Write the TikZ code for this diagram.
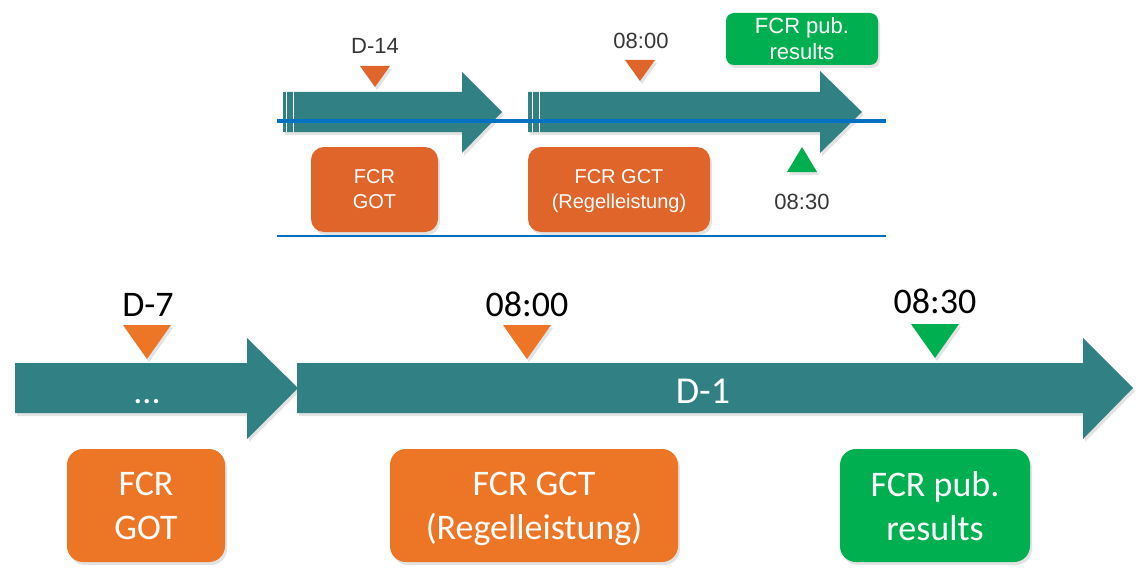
\documentclass[tikz,border=0pt]{standalone}
\usepackage{fontspec}
\setmainfont{Carlito}
\newfontfamily\arialfont{Liberation Sans}
\usetikzlibrary{shadows}

\definecolor{arrowteal}{RGB}{49,128,131}
\definecolor{gotorange}{RGB}{237,118,38}
\definecolor{toporange}{RGB}{224,101,43}
\definecolor{pubgreen}{RGB}{0,176,80}
\definecolor{lineblue}{RGB}{0,112,192}
\definecolor{labelgray}{RGB}{55,55,55}

\begin{document}
\begin{tikzpicture}[x=1pt,y=-1pt,
    softshadow/.style={drop shadow={shadow xshift=2pt,shadow yshift=-3pt,opacity=.22}},
    bigbox/.style={rounded corners=16pt, text=white, align=center, inner sep=0pt,
        text depth=0pt, minimum height=113pt, font=\fontsize{36}{44}\selectfont, softshadow},
    smallbox/.style={rounded corners=13pt, text=white, align=center, inner sep=0pt,
        text depth=0pt, minimum height=85pt, font=\arialfont\fontsize{20}{25}\selectfont, softshadow},
    biglabel/.style={anchor=base, font=\fontsize{36}{40}\selectfont},
    smalllabel/.style={anchor=base, text=labelgray, font=\arialfont\fontsize{22}{26}\selectfont}]

\useasboundingbox (0,0) rectangle (1142,575);

% top: arrows
\fill[arrowteal, softshadow] (283,92) -- (462,92) -- (462,72) -- (502,112)
    -- (462,153) -- (462,132) -- (283,132) -- cycle;
\fill[arrowteal, softshadow] (528,92) -- (820,92) -- (820,71) -- (862,112)
    -- (820,153) -- (820,132) -- (528,132) -- cycle;
\foreach \xs in {286,293,532,539}
\draw[white, line width=0.7pt] (\xs,92) -- (\xs,132);

% top: blue lines
\draw[lineblue, line width=4pt] (277,121) -- (886,121);
\draw[lineblue, line width=2pt] (277,236) -- (886,236);

% top: markers
\foreach \xm/\ym/\colm in {375/66/toporange,640/60/toporange}
\fill[\colm, softshadow] (\xm-15,\ym) -- (\xm+15,\ym) -- (\xm,\ym+21) -- cycle;
\fill[pubgreen, softshadow] (787,172) -- (817,172) -- (802,147) -- cycle;

\node[smalllabel] (topdfourteen) at (375,54) {D-14};
\node[smalllabel] (topeight) at (641,49) {08:00};
\node[smalllabel] (topeighthalf) at (802,209) {08:30};

% top: boxes
\node[smallbox, fill=toporange, minimum width=127pt] (topgot) at (374.5,189.5) {FCR\\GOT};
\node[smallbox, fill=toporange, minimum width=182pt] (topgct) at (619,189.5)
    {FCR GCT\\(Regelleistung)};
\node[smallbox, fill=pubgreen, minimum width=152pt, minimum height=52pt,
    rounded corners=8pt, font=\arialfont\fontsize{22}{26}\selectfont] (toppub) at (802,39)
    {FCR pub.\\results};

% bottom: arrows
\fill[arrowteal, softshadow] (15,363) -- (247,363) -- (247,338) -- (298,388)
    -- (247,439) -- (247,413) -- (15,413) -- cycle;
\fill[arrowteal, softshadow] (297,363) -- (1083,363) -- (1083,338) -- (1133,388)
    -- (1083,439) -- (1083,413) -- (297,413) -- cycle;
\node[anchor=base, text=white, font=\fontsize{36}{40}\selectfont] (dots) at (147,403) {...};
\node[anchor=base, text=white, font=\fontsize{38}{40}\selectfont] (dayone) at (703,403) {D-1};

% bottom: markers
\foreach \xm/\ym/\colm in {147/325/gotorange,527/325/gotorange,935/324/pubgreen}
\fill[\colm, softshadow] (\xm-24,\ym) -- (\xm+24,\ym) -- (\xm,\ym+34) -- cycle;

\node[biglabel] (dseven) at (148,316) {D-7};
\node[biglabel] (eight) at (527,316) {08:00};
\node[biglabel] (eighthalf) at (935,313) {08:30};

% bottom: boxes
\node[bigbox, fill=gotorange, minimum width=158pt] (got) at (146,505.5) {FCR\\GOT};
\node[bigbox, fill=gotorange, minimum width=288pt] (gct) at (534,505.5)
    {FCR GCT\\(Regelleistung)};
\node[bigbox, fill=pubgreen, minimum width=190pt] (pub) at (935,505.5)
    {FCR pub.\\results};
\end{tikzpicture}
\end{document}
